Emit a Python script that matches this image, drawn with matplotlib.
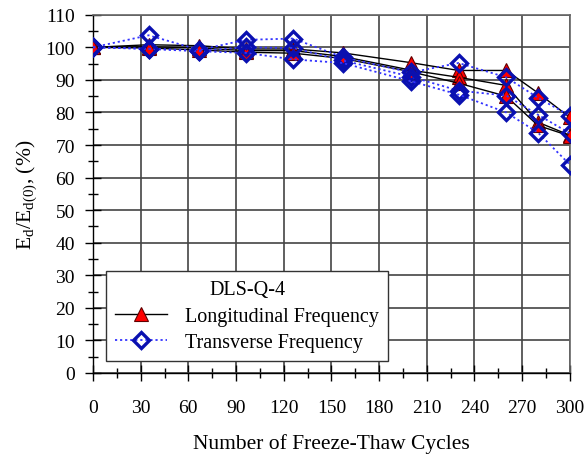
import numpy as np
import matplotlib
matplotlib.use('Agg')
from matplotlib import pyplot as plt
from matplotlib.ticker import MultipleLocator

plt.rcParams['font.family'] = ['Liberation Serif', 'DejaVu Serif']
plt.rcParams['mathtext.fontset'] = 'custom'
plt.rcParams['mathtext.rm'] = 'Liberation Serif'
plt.rcParams['mathtext.it'] = 'Liberation Serif'

cycles = [0, 35, 67, 96, 126, 157, 200, 230, 260, 280, 300]

# longitudinal frequency, three specimens
long1 = [100, 100.8, 100.5, 99.5, 99.5, 98.3, 95.3, 92.9, 92.9, 86.0, 78.5]
long2 = [100, 100.2, 99.8, 99.0, 99.0, 97.2, 93.0, 90.8, 88.3, 77.0, 73.0]
long3 = [100, 99.8, 99.2, 98.5, 98.2, 96.6, 92.5, 89.0, 85.0, 76.0, 72.8]

# transverse frequency, three specimens
trans1 = [100, 103.7, 99.2, 102.3, 102.7, 97.0, 92.3, 95.2, 90.8, 84.5, 79.0]
trans2 = [100, 99.6, 99.0, 100.0, 99.8, 96.0, 91.0, 86.7, 85.2, 79.3, 73.6]
trans3 = [100, 99.5, 98.8, 98.3, 96.3, 95.2, 89.6, 85.5, 80.0, 73.8, 64.0]

fig = plt.figure(figsize=(5.85, 4.64), dpi=100)
ax = fig.add_axes([0.159, 0.194, 0.815, 0.772])

for i, s in enumerate([long1, long2, long3]):
    ax.plot(cycles, s, color='black', lw=1.0, marker='^', markersize=10,
            markerfacecolor='red', markeredgecolor='#600000', markeredgewidth=0.8,
            label='Longitudinal Frequency' if i == 0 else None, zorder=3)

for i, s in enumerate([trans1, trans2, trans3]):
    ax.plot(cycles, s, color='#3333ff', lw=1.3, ls=(0, (1.2, 1.6)), marker='D',
            markersize=8.5, markerfacecolor='none', markeredgecolor='#0a10b0',
            markeredgewidth=2.4, label='Transverse Frequency' if i == 0 else None,
            zorder=4)

ax.set_xlim(0, 300)
ax.set_ylim(0, 110)
ax.xaxis.set_major_locator(MultipleLocator(30))
ax.xaxis.set_minor_locator(MultipleLocator(15))
ax.yaxis.set_major_locator(MultipleLocator(10))
ax.yaxis.set_minor_locator(MultipleLocator(5))
ax.grid(True, which='major', color='#444444', lw=1.2)
ax.set_axisbelow(True)

ax.tick_params(which='major', direction='inout', length=12, width=1.0, labelsize=14, pad=7)
ax.tick_params(which='minor', direction='inout', length=7, width=1.0)
ax.tick_params(axis='x', which='major', pad=13)
for side in ['top', 'right']:
    ax.spines[side].set_color('#666666')
    ax.spines[side].set_linewidth(1.2)
for side in ['left', 'bottom']:
    ax.spines[side].set_linewidth(1.0)

ax.set_xlabel('Number of Freeze-Thaw Cycles', fontsize=15.5, labelpad=12)
ax.set_ylabel(r'E$_\mathregular{d}$/E$_\mathregular{d(0)}$, (%)', fontsize=15.5, labelpad=5)

leg = ax.legend(title='DLS-Q-4', loc='lower left', bbox_to_anchor=(0.027, 0.034),
                borderaxespad=0, fontsize=14.5, title_fontsize=14.5, fancybox=False,
                framealpha=1, edgecolor='#333333', handlelength=2.6, handletextpad=0.9,
                borderpad=0.45, labelspacing=0.35)
leg.get_frame().set_linewidth(1.0)

fig.savefig('out.png', dpi=100)
